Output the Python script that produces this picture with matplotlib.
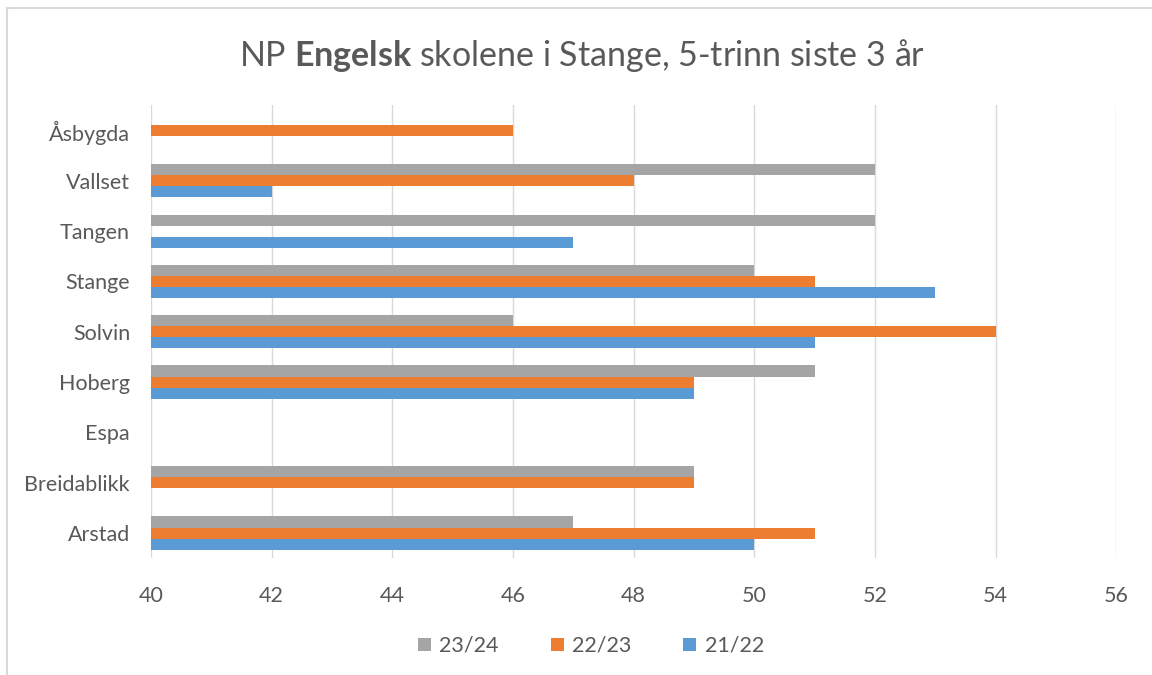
import matplotlib.pyplot as plt
import numpy as np
from matplotlib.patches import Rectangle

plt.rcParams['font.family'] = ['Lato', 'DejaVu Sans']
plt.rcParams['mathtext.fontset'] = 'custom'
plt.rcParams['mathtext.bf'] = 'Lato:bold'
plt.rcParams['mathtext.rm'] = 'Lato'

schools = ['Arstad', 'Breidablikk', 'Espa', 'Hoberg', 'Solvin', 'Stange', 'Tangen', 'Vallset', 'Åsbygda']
y2324 = [47, 49, np.nan, 51, 46, 50, 52, 52, np.nan]
y2223 = [51, 49, np.nan, 49, 54, 51, np.nan, 48, 46]
y2122 = [50, np.nan, np.nan, 49, 51, 53, 47, 42, np.nan]

text_c = '#595959'
fig = plt.figure(figsize=(11.52, 6.75), dpi=100)
ax = fig.add_axes([0.131, 0.173, 0.838, 0.671])

pos = np.arange(len(schools))
h = 0.22
base = 40
ax.barh(pos + h, np.array(y2324) - base, left=base, height=h, color='#A5A5A5', label='23/24')
ax.barh(pos, np.array(y2223) - base, left=base, height=h, color='#ED7D31', label='22/23')
ax.barh(pos - h, np.array(y2122) - base, left=base, height=h, color='#5B9BD5', label='21/22')

ax.set_xlim(40, 56)
ax.set_xticks(range(40, 57, 2))
ax.set_ylim(-0.5, len(schools) - 0.5)
ax.set_yticks(pos)
ax.set_yticklabels(schools)
ax.grid(axis='x', color='#D9D9D9', linewidth=1)
ax.set_axisbelow(True)
for s in ax.spines.values():
    s.set_visible(False)
ax.tick_params(length=0, labelsize=15.5, colors=text_c, pad=15)
ax.tick_params(axis='x', pad=20)

fig.text(0.505, 0.918, r'NP $\bf{Engelsk}$ skolene i Stange, 5-trinn siste 3 år',
         ha='center', va='center', fontsize=24.5, color=text_c)

leg = fig.legend(loc='center', bbox_to_anchor=(0.513, 0.043), ncol=3, frameon=False,
                 fontsize=15.5, handlelength=0.6, handleheight=0.6, columnspacing=2.4,
                 handletextpad=0.4)
for t in leg.get_texts():
    t.set_color(text_c)

fig.patches.append(Rectangle((0.006, -0.01), 1.0, 0.998, transform=fig.transFigure,
                             fill=False, edgecolor='#D9D9D9', linewidth=1.5))

fig.savefig('out.png', dpi=100)
